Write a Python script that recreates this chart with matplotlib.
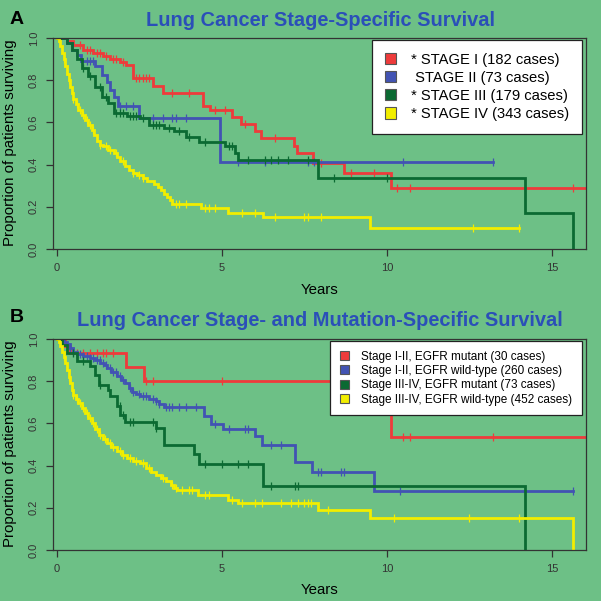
import matplotlib
matplotlib.use("Agg")
import matplotlib.pyplot as plt
from matplotlib.patches import Patch
import numpy as np

plt.rcParams['font.family'] = ['Liberation Sans', 'DejaVu Sans']

bg = '#6dc086'
colors = ['#ee3b3b', '#4253b3', '#0b6a32', '#f2ee00']

# ---- panel A : stage-specific survival (KM step points) ----
a_red_t = [0, 0.3, 0.5, 0.8, 1.1, 1.4, 1.6, 1.9, 2.1, 2.3, 2.9, 3.2, 4.42, 4.65, 5.29, 5.57, 6.0, 6.17, 7.18, 7.28, 7.75, 8.7, 10.11, 16.07]
a_red_s = [1.0, 0.985, 0.965, 0.945, 0.93, 0.915, 0.90, 0.885, 0.87, 0.81, 0.772, 0.741, 0.68, 0.659, 0.627, 0.594, 0.56, 0.528, 0.488, 0.456, 0.409, 0.359, 0.287, 0.287]
a_red_c = [0.5, 0.7, 0.9, 1.0, 1.2, 1.3, 1.5, 1.7, 1.8, 2.0, 2.4, 2.5, 2.6, 2.7, 2.8, 3.5, 4.0, 4.8, 5.1, 5.7, 6.6, 7.9, 8.0, 8.9, 9.6, 10.3, 10.7, 15.65]

a_blue_t = [0, 0.3, 0.45, 0.6, 0.74, 1.14, 1.36, 1.51, 1.6, 1.72, 1.85, 2.48, 4.95, 13.2]
a_blue_s = [1.0, 0.976, 0.945, 0.92, 0.89, 0.865, 0.826, 0.79, 0.755, 0.72, 0.678, 0.622, 0.41, 0.41]
a_blue_c = [0.9, 1.0, 1.1, 1.9, 2.1, 2.3, 2.9, 3.2, 3.5, 3.6, 3.9, 5.5, 6.3, 7.6, 7.8, 10.5, 13.2]

a_green_t = [0, 0.3, 0.45, 0.6, 0.75, 0.95, 1.16, 1.36, 1.56, 1.72, 2.12, 2.53, 2.78, 3.24, 3.55, 3.9, 4.3, 5.09, 5.39, 5.49, 7.92, 14.17, 15.64]
a_green_s = [1.0, 0.975, 0.945, 0.90, 0.86, 0.82, 0.77, 0.72, 0.69, 0.645, 0.63, 0.62, 0.59, 0.573, 0.557, 0.533, 0.507, 0.488, 0.455, 0.42, 0.335, 0.169, 0.0]
a_green_c = [0.8, 1.0, 1.3, 1.5, 1.8, 1.9, 2.0, 2.2, 2.3, 2.4, 2.6, 2.9, 3.0, 3.1, 3.4, 3.7, 4.0, 4.5, 5.2, 5.3, 5.8, 6.3, 6.5, 6.7, 7.0, 7.6, 8.4, 10.0]

a_yel_t = [0, 0.05, 0.1, 0.15, 0.2, 0.25, 0.3, 0.35, 0.4, 0.45, 0.5, 0.58, 0.65, 0.75, 0.85, 0.95, 1.06, 1.13, 1.21, 1.3, 1.41, 1.55, 1.72, 1.82, 1.92, 2.05, 2.17, 2.3, 2.43, 2.6, 2.73, 2.94, 3.05, 3.14, 3.25, 3.34, 3.42, 3.5, 4.36, 5.17, 6.24, 9.5, 14.0]
a_yel_s = [1.0, 0.985, 0.96, 0.93, 0.90, 0.865, 0.83, 0.80, 0.77, 0.74, 0.71, 0.685, 0.66, 0.635, 0.612, 0.59, 0.565, 0.54, 0.51, 0.495, 0.486, 0.47, 0.454, 0.435, 0.415, 0.395, 0.375, 0.362, 0.351, 0.335, 0.32, 0.31, 0.295, 0.28, 0.262, 0.248, 0.23, 0.214, 0.193, 0.169, 0.15, 0.098, 0.098]
a_yel_c = [0.2, 0.35, 0.5, 0.6, 0.7, 0.8, 0.9, 1.0, 1.1, 1.3, 1.5, 1.6, 1.8, 2.0, 2.3, 2.5, 2.6, 3.6, 3.7, 3.9, 4.5, 4.6, 4.8, 5.6, 6.0, 6.6, 7.5, 7.6, 8.0, 12.6, 14.0]

a_labels = ['* STAGE I (182 cases)', ' STAGE II (73 cases)', '* STAGE III (179 cases)', '* STAGE IV (343 cases)']

# ---- panel B : stage- and mutation-specific survival ----
b_red_t = [0, 0.25, 0.4, 2.1, 2.63, 10.13, 16.07]
b_red_s = [1.0, 0.967, 0.933, 0.867, 0.80, 0.535, 0.535]
b_red_c = [0.6, 0.8, 1.0, 1.2, 1.4, 1.5, 1.7, 2.7, 2.9, 5.0, 10.5, 10.7, 13.2]

b_blue_t = [0, 0.2, 0.3, 0.4, 0.5, 0.6, 0.8, 1.0, 1.15, 1.31, 1.42, 1.51, 1.65, 1.82, 1.95, 2.07, 2.18, 2.28, 2.4, 2.53, 2.8, 2.99, 3.1, 3.24, 4.46, 4.66, 5.02, 6.0, 6.2, 7.2, 7.72, 9.6, 15.64]
b_blue_s = [1.0, 0.985, 0.975, 0.955, 0.94, 0.93, 0.92, 0.91, 0.90, 0.886, 0.875, 0.862, 0.845, 0.823, 0.805, 0.79, 0.77, 0.75, 0.74, 0.73, 0.715, 0.704, 0.69, 0.678, 0.633, 0.598, 0.574, 0.542, 0.50, 0.418, 0.37, 0.278, 0.278]
b_blue_c = [0.4, 0.5, 0.6, 0.7, 0.8, 0.9, 1.0, 1.1, 1.2, 1.3, 1.4, 1.5, 1.6, 1.7, 1.8, 1.9, 2.0, 2.2, 2.3, 2.5, 2.6, 2.7, 2.9, 3.0, 3.1, 3.3, 3.4, 3.5, 3.7, 3.9, 4.2, 4.8, 5.2, 5.7, 5.8, 6.5, 6.8, 7.9, 8.0, 8.6, 8.7, 10.4, 15.64]

b_green_t = [0, 0.14, 0.3, 0.6, 1.0, 1.16, 1.26, 1.56, 1.62, 1.82, 1.92, 2.07, 2.99, 3.24, 4.16, 4.31, 6.24, 14.19]
b_green_s = [1.0, 0.97, 0.934, 0.894, 0.87, 0.83, 0.783, 0.76, 0.728, 0.683, 0.64, 0.605, 0.578, 0.50, 0.456, 0.408, 0.304, 0.0]
b_green_c = [0.5, 0.8, 1.3, 1.9, 2.0, 2.2, 2.3, 2.9, 3.0, 4.5, 5.0, 5.5, 5.8, 6.5, 7.2, 7.3]

b_yel_t = [0, 0.05, 0.1, 0.15, 0.2, 0.25, 0.3, 0.35, 0.4, 0.45, 0.5, 0.58, 0.65, 0.75, 0.85, 0.95, 1.06, 1.16, 1.26, 1.38, 1.51, 1.65, 1.82, 1.97, 2.12, 2.3, 2.53, 2.7, 2.84, 3.0, 3.14, 3.3, 3.45, 3.55, 3.65, 4.26, 5.17, 5.48, 7.9, 9.5, 15.64]
b_yel_s = [1.0, 0.985, 0.965, 0.94, 0.915, 0.885, 0.854, 0.82, 0.79, 0.76, 0.735, 0.715, 0.696, 0.672, 0.649, 0.625, 0.60, 0.572, 0.546, 0.525, 0.506, 0.487, 0.467, 0.45, 0.435, 0.422, 0.411, 0.39, 0.372, 0.355, 0.34, 0.325, 0.309, 0.295, 0.282, 0.261, 0.237, 0.225, 0.19, 0.153, 0.0]
b_yel_c = [0.2, 0.35, 0.5, 0.6, 0.7, 0.8, 0.9, 1.0, 1.1, 1.2, 1.3, 1.45, 1.6, 1.7, 1.9, 2.0, 2.2, 2.4, 2.6, 2.8, 3.2, 3.5, 3.6, 3.8, 4.0, 4.1, 4.5, 4.6, 5.3, 5.6, 6.0, 6.2, 6.8, 7.1, 7.3, 7.5, 7.6, 7.7, 8.2, 10.2, 12.5, 14.0]

b_labels = ['Stage I-II, EGFR mutant (30 cases)', 'Stage I-II, EGFR wild-type (260 cases)',
            'Stage III-IV, EGFR mutant (73 cases)', 'Stage III-IV, EGFR wild-type (452 cases)']

panel_a = [(a_red_t, a_red_s, a_red_c), (a_blue_t, a_blue_s, a_blue_c),
           (a_green_t, a_green_s, a_green_c), (a_yel_t, a_yel_s, a_yel_c)]
panel_b = [(b_red_t, b_red_s, b_red_c), (b_blue_t, b_blue_s, b_blue_c),
           (b_green_t, b_green_s, b_green_c), (b_yel_t, b_yel_s, b_yel_c)]

fig = plt.figure(figsize=(6.01, 6.01), dpi=100, facecolor=bg)
W = 601.0


def draw_panel(rect, curves, labels, leg_size, leg_space, leg_pad):
    ax = fig.add_axes(rect, facecolor=bg)
    for (t, s, c), col in zip(curves, colors):
        t = np.asarray(t)
        s = np.asarray(s)
        ax.step(t, s, where='post', color=col, lw=2.0, solid_joinstyle='miter')
        idx = np.searchsorted(t, c, side='right') - 1
        ax.plot(c, s[idx], ls='none', marker='|', ms=6, mew=0.9, color=col)
    ax.set_xlim(-0.12, 16.03)
    ax.set_ylim(0, 1)
    ax.set_xticks([0, 5, 10, 15])
    ax.set_yticks([0, 0.2, 0.4, 0.6, 0.8, 1.0])
    ax.set_yticklabels(['0.0', '0.2', '0.4', '0.6', '0.8', '1.0'], rotation=90, va='center')
    ax.tick_params(length=5, width=0.9, color='#333333', labelsize=8, labelcolor='#333333', pad=5)
    for sp in ax.spines.values():
        sp.set_color('#333333')
        sp.set_linewidth(0.9)
    handles = [Patch(facecolor=col, edgecolor='#555555', lw=0.8) for col in colors]
    leg = ax.legend(handles, labels, loc='upper right', bbox_to_anchor=(0.992, 0.99),
                    fontsize=leg_size, frameon=True, fancybox=False, framealpha=1,
                    edgecolor='#222222', handlelength=0.8, handleheight=0.8,
                    handletextpad=1.0, labelspacing=leg_space, borderpad=leg_pad, borderaxespad=0)
    leg.get_frame().set_linewidth(0.9)
    return ax


# panel A
draw_panel([53 / W, 1 - 249 / W, 533 / W, 211 / W], panel_a, a_labels, 10.6, 0.28, 0.85)
fig.text(17 / W, 1 - 20 / W, 'A', fontsize=14, fontweight='bold', ha='center', va='center')
fig.text(320 / W, 1 - 20 / W, 'Lung Cancer Stage-Specific Survival', fontsize=14.4,
         fontweight='bold', color='#2b4fb8', ha='center', va='center')
fig.text(10 / W, 1 - 143 / W, 'Proportion of patients surviving', fontsize=10.8,
         rotation=90, ha='center', va='center')
fig.text(320 / W, 1 - 290 / W, 'Years', fontsize=10.8, ha='center', va='center')

# panel B
draw_panel([53 / W, 1 - 550 / W, 533 / W, 211 / W], panel_b, b_labels, 8.5, 0.2, 0.8)
fig.text(17 / W, 1 - 318 / W, 'B', fontsize=14, fontweight='bold', ha='center', va='center')
fig.text(320 / W, 1 - 320 / W, 'Lung Cancer Stage- and Mutation-Specific Survival', fontsize=14.4,
         fontweight='bold', color='#2b4fb8', ha='center', va='center')
fig.text(10 / W, 1 - 444 / W, 'Proportion of patients surviving', fontsize=10.8,
         rotation=90, ha='center', va='center')
fig.text(320 / W, 1 - 590 / W, 'Years', fontsize=10.8, ha='center', va='center')

fig.savefig('out.png', dpi=100, facecolor=bg)
